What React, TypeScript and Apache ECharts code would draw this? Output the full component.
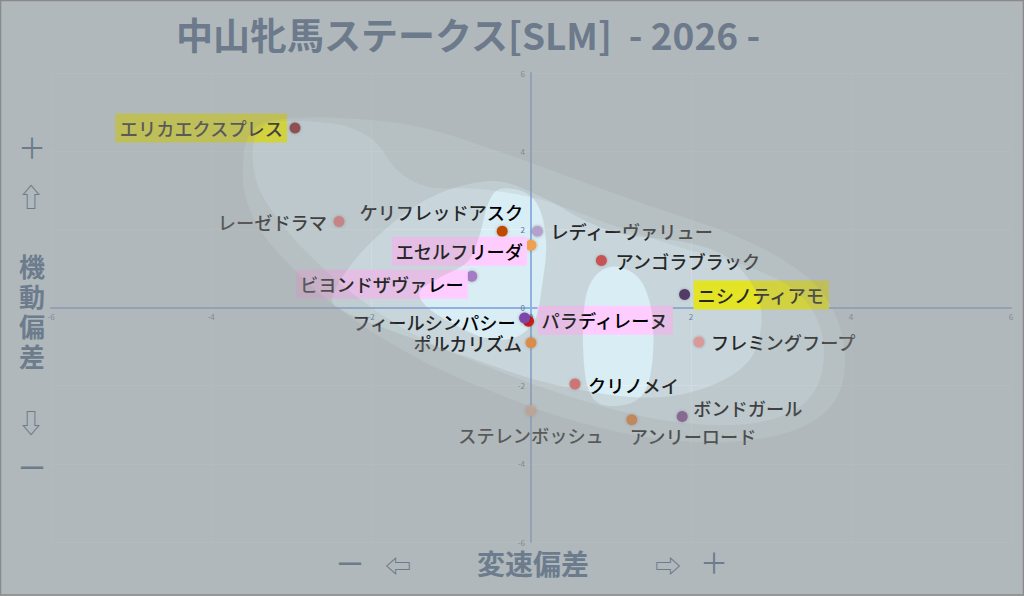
import React, { useEffect, useRef } from "react";
import * as echarts from "echarts";

const TITLE = "中山牝馬ステークス[SLM]  - 2026 -";
const FONT = "'Noto Sans CJK JP', 'Noto Sans', sans-serif";

// 横軸: 変速偏差, 縦軸: 機動偏差
const horseNames = [
  "エリカエクスプレス", "レーゼドラマ", "ケリフレッドアスク", "レディーヴァリュー",
  "エセルフリーダ", "ビヨンドザヴァレー", "アンゴラブラック", "ニシノティアモ",
  "パラディレーヌ", "フィールシンパシー", "ポルカリズム", "フレミングフープ",
  "クリノメイ", "ステレンボッシュ", "アンリーロード", "ボンドガール",
];
const speedDev = [-2.95, -2.4, -0.36, 0.08, 0.0, -0.74, 0.88, 1.92, -0.03, -0.08, 0.0, 2.1, 0.55, 0.0, 1.26, 1.89];
const mobilityDev = [4.59, 2.2, 1.95, 1.95, 1.59, 0.8, 1.2, 0.33, -0.35, -0.27, -0.9, -0.88, -1.96, -2.64, -2.87, -2.79];
const pointColors = [
  "#8b1a24", "#e87878", "#c04a00", "#b4a0cc", "#f0a050", "#a57cc4", "#d83c3c", "#3c1e55",
  "#c81e1e", "#7b45a8", "#f08a30", "#f09a9a", "#e06a6a", "#f0c09a", "#f07a20", "#7a4a90",
];
const labelSides = ["left", "left", "left", "right", "left", "left", "right", "right", "right", "left", "left", "right", "right", "bottom", "right", "right"];
const labelShifts = [
  [2.5, 0], [-1.5, 0], [31.5, -19], [2.5, 0], [6.5, 6], [6.5, 8], [3.5, 0], [-1.5, 0.5],
  [-1.5, -1], [1.5, 4], [1.5, 0], [1.5, 0], [2.5, 1], [0, 3], [-12.5, 16], [0.5, -9],
];
const labelBoxes = ["#ffff00", "", "", "", "#ffccff", "#ffccff", "", "#ffff00", "#ffccff", "", "", "", "", "", "", ""];

// 密度の等高領域（データ座標）
const level0 = [
  [-3.6, 3.67], [-3.51, 4.44], [-3.2, 4.79], [-2.39, 4.85], [-1.39, 4.62], [-0.3, 3.92], [1.18, 2.82],
  [2.66, 1.74], [3.55, 0.59], [3.9, -0.82], [3.84, -2.23], [3.36, -3.08], [2.49, -3.44], [1.49, -3.33],
  [0.49, -2.87], [-0.39, -2.23], [-1.39, -1.33], [-2.39, -0.05], [-3.2, 1.49], [-3.54, 2.64],
];
const level1 = [
  [-3.36, 4.62], [-2.51, 4.72], [-1.99, 4.31], [-1.66, 3.49], [-1.26, 3.08], [-0.64, 3.03], [0.11, 2.77],
  [0.99, 2.13], [1.86, 1.54], [2.74, 1.03], [3.36, 0.33], [3.64, -0.69], [3.61, -1.85], [3.3, -2.62],
  [2.61, -3.0], [1.61, -2.87], [0.61, -2.36], [-0.39, -1.64], [-1.39, -0.77], [-2.26, 0.41],
  [-3.01, 1.87], [-3.44, 3.28],
];
const level2 = [
  [-2.48, 0.28], [-2.14, 1.36], [-1.54, 2.46], [-1.0, 3.03], [-0.4, 3.23], [0.19, 2.77], [0.69, 2.21],
  [1.18, 1.87], [1.93, 1.67], [2.46, 1.28], [2.8, 0.46], [2.88, -0.38], [2.76, -1.26], [2.41, -1.85],
  [1.86, -2.23], [1.18, -2.28], [0.19, -1.92], [-0.8, -1.26], [-1.79, -0.56], [-2.33, -0.1],
];
const level3a = [
  [-0.39, 3.03], [-0.08, 2.95], [0.11, 2.51], [0.19, 1.62], [0.14, 0.59], [0.05, -0.31], [-0.2, -0.77],
  [-0.58, -0.77], [-0.95, -0.44], [-1.29, 0.0], [-1.39, 0.41], [-1.14, 0.77], [-0.79, 1.18],
  [-0.64, 1.87], [-0.54, 2.64],
];
const level3b = [
  [1.05, 1.05], [1.34, 0.77], [1.49, 0.08], [1.53, -0.95], [1.46, -1.97], [1.26, -2.44], [0.89, -2.49],
  [0.71, -2.05], [0.65, -0.95], [0.68, 0.21], [0.81, 0.82],
];
const levelShapes = [[level0], [level1], [level2], [level3a, level3b]];
const levelAlphas = [0.17, 0.16, 0.23, 0.26];

const AXIS_MIN = -6;
const AXIS_MAX = 6;
const AXIS_STEP = 2;

function smoothClosed(pts: number[][]): string {
  const n = pts.length;
  let d = `M ${pts[0][0]} ${pts[0][1]}`;
  for (let i = 0; i < n; i++) {
    const p0 = pts[(i - 1 + n) % n];
    const p1 = pts[i];
    const p2 = pts[(i + 1) % n];
    const p3 = pts[(i + 2) % n];
    const c1x = p1[0] + (p2[0] - p0[0]) / 6;
    const c1y = p1[1] + (p2[1] - p0[1]) / 6;
    const c2x = p2[0] - (p3[0] - p1[0]) / 6;
    const c2y = p2[1] - (p3[1] - p1[1]) / 6;
    d += ` C ${c1x} ${c1y} ${c2x} ${c2y} ${p2[0]} ${p2[1]}`;
  }
  return d + " Z";
}

function signedArea(pts: number[][]): number {
  let s = 0;
  for (let i = 0; i < pts.length; i++) {
    const a = pts[i];
    const b = pts[(i + 1) % pts.length];
    s += a[0] * b[1] - b[0] * a[1];
  }
  return s / 2;
}

const W = 1024;
const H = 596;

export default function App() {
  const ref = useRef<HTMLDivElement>(null);

  useEffect(() => {
    if (!ref.current) return;
    const chart = echarts.init(ref.current, undefined, { renderer: "svg" });

    const scatterData = horseNames.map((name, i) => {
      const box = labelBoxes[i];
      return {
        name,
        value: [speedDev[i], mobilityDev[i]],
        itemStyle: { color: pointColors[i] },
        label: {
          show: true,
          formatter: name,
          position: labelSides[i],
          distance: 5,
          color: "#000",
          fontSize: 18.2,
          fontWeight: 500,
          lineHeight: 21,
          fontFamily: FONT,
          backgroundColor: box || "transparent",
          padding: box ? [4, 4] : [0, 0],
        },
      };
    });

    const overlayRender = (params: any, api: any) => {
      const idx = params.dataIndex;
      let d = `M 0 0 L ${W} 0 L ${W} ${H} L 0 ${H} Z`;
      levelShapes[idx].forEach((shape) => {
        let pts = shape.map((p) => api.coord(p));
        if (signedArea(pts) > 0) pts = pts.slice().reverse();
        d += " " + smoothClosed(pts);
      });
      return {
        type: "path",
        shape: { pathData: d },
        style: { fill: `rgba(150,150,150,${levelAlphas[idx]})`, stroke: "none" },
        silent: true,
      };
    };

    const slate = "#6d7c8d";
    const deco = (text: string, x: number, y: number, size: number, weight = "normal", lineHeight?: number) => ({
      type: "text",
      x,
      y,
      z: 50,
      silent: true,
      style: {
        text,
        fill: slate,
        fontSize: size,
        fontWeight: weight,
        fontFamily: FONT,
        lineHeight: lineHeight || size * 1.1,
        align: "center",
        verticalAlign: "middle",
      },
    });

    const axisCommon = {
      type: "value",
      min: AXIS_MIN,
      max: AXIS_MAX,
      interval: AXIS_STEP,
      axisTick: { show: false },
      splitLine: { show: true, lineStyle: { color: "#e6f3f8", width: 1 } },
    };

    chart.setOption({
      animation: false,
      backgroundColor: "#d9edf4",
      textStyle: { fontFamily: FONT },
      title: {
        text: TITLE,
        left: 171,
        top: 10,
        z: 60,
        textStyle: { fontSize: 37, fontWeight: "bold", color: "#6c7a8b", fontFamily: FONT },
      },
      grid: {
        left: 51,
        right: 13,
        top: 73,
        bottom: 54,
        show: false,
      },
      xAxis: {
        ...axisCommon,
        position: "bottom",
        offset: -234.5,
        axisLine: { onZero: false, lineStyle: { color: "#8fb2e0", width: 2 } },
        axisLabel: { fontSize: 8, color: "#5577aa", margin: 5 },
      },
      yAxis: {
        ...axisCommon,
        position: "left",
        offset: -480,
        axisLine: { onZero: false, lineStyle: { color: "#8fb2e0", width: 2 } },
        axisLabel: { fontSize: 8, color: "#5577aa", margin: 6 },
      },
      graphic: [
        deco("＋", 32, 147, 28),
        deco("⇧", 31, 195, 26),
        deco("機\n動\n偏\n差", 32, 310, 26, "bold", 30),
        deco("⇩", 31, 421, 26),
        deco("ー", 32, 467, 28),
        deco("ー", 350, 563, 28),
        deco("⇦", 398, 564, 26),
        deco("変速偏差", 533, 563, 28, "bold"),
        deco("⇨", 668, 564, 26),
        deco("＋", 714, 562, 28),
        {
          type: "rect",
          z: 100,
          silent: true,
          shape: { x: 0.5, y: 0.5, width: 1023, height: 594.5 },
          style: { fill: "none", stroke: "#8a8a8a", lineWidth: 1.5 },
        },
      ],
      series: [
        {
          type: "scatter",
          z: 3,
          symbolSize: 11,
          itemStyle: { shadowBlur: 3, shadowColor: "rgba(0,0,0,0.3)", opacity: 1 },
          data: scatterData,
          labelLayout: (p: any) => ({
            dx: labelShifts[p.dataIndex][0],
            dy: labelShifts[p.dataIndex][1],
            hideOverlap: false,
          }),
        },
        {
          type: "custom",
          z: 10,
          silent: true,
          clip: false,
          renderItem: overlayRender,
          data: [[0, 0], [0, 0], [0, 0], [0, 0]],
        },
      ],
    });

    return () => chart.dispose();
  }, []);

  return (
    <div
      ref={ref}
      style={{ position: "fixed", left: 0, top: 0, width: W, height: H, background: "#d9edf4" }}
    />
  );
}
